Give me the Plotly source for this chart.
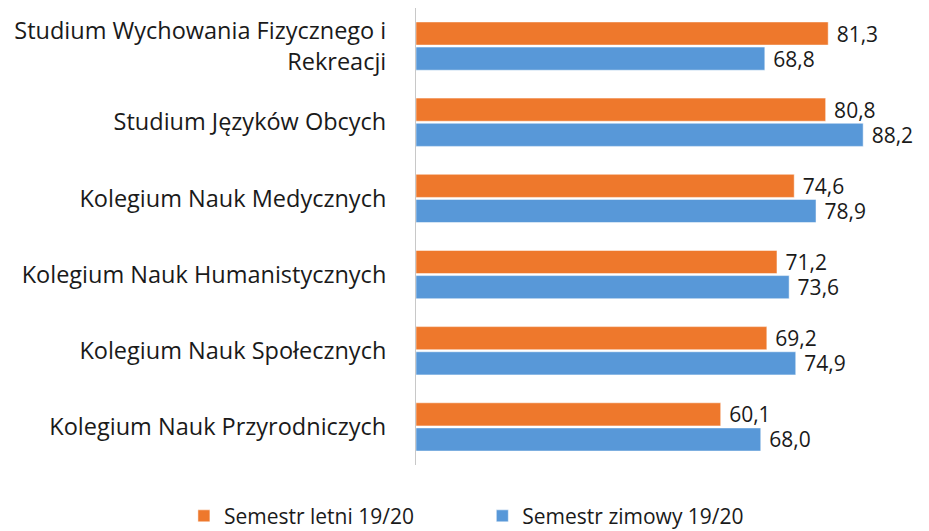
import plotly.graph_objects as go

categories = [
    "Studium Wychowania Fizycznego i<br>Rekreacji",
    "Studium Języków Obcych",
    "Kolegium Nauk Medycznych",
    "Kolegium Nauk Humanistycznych",
    "Kolegium Nauk Społecznych",
    "Kolegium Nauk Przyrodniczych",
]
letni = [81.3, 80.8, 74.6, 71.2, 69.2, 60.1]
zimowy = [68.8, 88.2, 78.9, 73.6, 74.9, 68.0]

font_family = "Open Sans, Lato, sans-serif"

fig = go.Figure()
fig.add_trace(go.Bar(
    y=categories, x=letni, orientation="h", name="Semestr letni 19/20",
    marker=dict(color="#EE782C"), legend="legend",
    texttemplate=" %{x:.1f}", textposition="outside", constraintext="none",
    textfont=dict(size=21, color="#1a1a1a"), cliponaxis=False,
))
fig.add_trace(go.Bar(
    y=categories, x=zimowy, orientation="h", name="Semestr zimowy 19/20",
    marker=dict(color="#5898D8"), legend="legend2",
    texttemplate=" %{x:.1f}", textposition="outside", constraintext="none",
    textfont=dict(size=21, color="#1a1a1a"), cliponaxis=False,
))

legend_style = dict(orientation="h", xref="container", xanchor="left",
                    y=-0.112, yanchor="middle", font=dict(size=21))

# page body adds an 8px offset, so the figure is sized a bit smaller
fig.update_layout(
    width=921, height=523,
    template="plotly_white",
    separators=", ",
    barmode="group",
    bargap=0.34,
    bargroupgap=0.08,
    margin=dict(l=408, r=6, t=0, b=66, autoexpand=False),
    font=dict(family=font_family, size=24, color="#1a1a1a"),
    showlegend=True,
    legend=dict(x=0.191, **legend_style),
    legend2=dict(x=0.515, **legend_style),
    plot_bgcolor="white", paper_bgcolor="white",
)
fig.update_xaxes(range=[0, 100], showticklabels=False, showgrid=False, zeroline=False)
fig.update_yaxes(autorange="reversed", showline=True, linecolor="#C8C8C8", linewidth=1,
                 showgrid=False, ticks="", automargin=False, ticklabelstandoff=24,
                 tickfont=dict(size=23.5))

fig.write_html("out.html")
